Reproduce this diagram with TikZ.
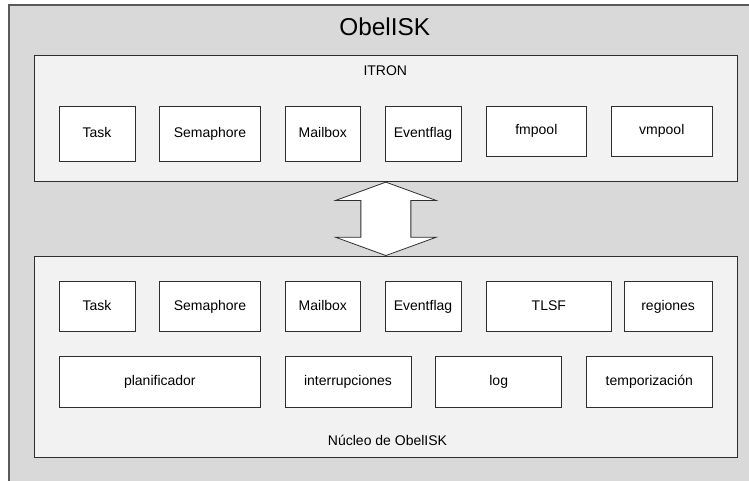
\documentclass[tikz,border=0pt]{standalone}
\usepackage{fontspec}
\setmainfont{Liberation Sans}
\usetikzlibrary{calc}
\definecolor{outergray}{HTML}{D9D9D9}
\definecolor{outeredge}{HTML}{5A5A5A}
\definecolor{layerfill}{HTML}{F2F2F2}
\definecolor{edge}{HTML}{2E2E2E}
\begin{document}
\begin{tikzpicture}[x=1pt,y=-1pt,
  layer/.style={draw=edge, fill=layerfill, line width=0.9pt, inner sep=0pt},
  module/.style={draw=edge, fill=white, line width=0.8pt, inner sep=0pt,
    font=\fontsize{14}{16}\selectfont, text height=10pt, text depth=3pt},
  caption/.style={anchor=base, inner sep=0pt, font=\fontsize{14}{16}\selectfont},
  bigarrow/.style={draw=edge, fill=white, line width=0.8pt, line join=miter}]
\useasboundingbox (0,0) rectangle (749,481);
% system frame (continues past the right and bottom edges)
\fill[outergray] (9,5) rectangle (749,481);
\draw[outeredge, line width=1.2pt] (749,5) -- (9,5) -- (9,481);
\node[anchor=base, inner sep=0pt, font=\fontsize{24.4}{28}\selectfont] (title) at (384.7,36) {ObelISK};

% ITRON layer
\node[layer, minimum width=703.7pt, minimum height=126pt] (itron) at (385.85,118.7) {};
\node[caption] (itronlbl) at (385.3,76) {ITRON};
\node[module, minimum width=76pt,    minimum height=55.7pt] (itask) at (97,133.85)     {Task};
\node[module, minimum width=101.4pt, minimum height=55.7pt] (isem)  at (210,133.85)    {Semaphore};
\node[module, minimum width=75.7pt,  minimum height=55.7pt] (imbx)  at (322.85,133.85) {Mailbox};
\node[module, minimum width=76pt,    minimum height=55.7pt] (iflg)  at (423,133.85)    {Eventflag};
\node[module, minimum width=100.7pt, minimum height=50pt]   (ifmp)  at (536.35,131)    {fmpool};
\node[module, minimum width=101pt,   minimum height=50pt]   (ivmp)  at (661.8,131)     {vmpool};

% kernel layer
\node[layer, minimum width=703.7pt, minimum height=201.3pt] (nucleo) at (385.85,356.65) {};
\node[caption] (nucleolbl) at (387.5,445.7) {Núcleo de ObelISK};
\node[module, minimum width=76pt,    minimum height=50pt] (ktask) at (97,306.7)     {Task};
\node[module, minimum width=101.4pt, minimum height=50pt] (ksem)  at (210,306.7)    {Semaphore};
\node[module, minimum width=75.7pt,  minimum height=50pt] (kmbx)  at (322.85,306.7) {Mailbox};
\node[module, minimum width=76pt,    minimum height=50pt] (kflg)  at (423,306.7)    {Eventflag};
\node[module, minimum width=125.7pt, minimum height=50pt] (ktlsf) at (548.85,306.7) {TLSF};
\node[module, minimum width=88.3pt,  minimum height=50pt] (kreg)  at (668.15,306.7) {regiones};
\node[module, minimum width=201.7pt, minimum height=50.6pt] (kplan) at (159.85,382) {planificador};
\node[module, minimum width=126pt,   minimum height=50.6pt] (kint)  at (348,382)    {interrupciones};
\node[module, minimum width=126pt,   minimum height=50.6pt] (klog)  at (498.7,382)  {log};
\node[module, minimum width=126pt,   minimum height=50.6pt] (ktmp)  at (649.3,382)  {temporización};

% two-way link between the layers
\draw[bigarrow] (itron.south)
  -- ($(itron.south)+(50.3,18.3)$) -- ($(itron.south)+(25,18.3)$)
  -- ($(nucleo.north)+(25,-18.3)$) -- ($(nucleo.north)+(50.3,-18.3)$)
  -- (nucleo.north)
  -- ($(nucleo.north)+(-50.3,-18.3)$) -- ($(nucleo.north)+(-25,-18.3)$)
  -- ($(itron.south)+(-25,18.3)$) -- ($(itron.south)+(-50.3,18.3)$)
  -- cycle;
\end{tikzpicture}
\end{document}
